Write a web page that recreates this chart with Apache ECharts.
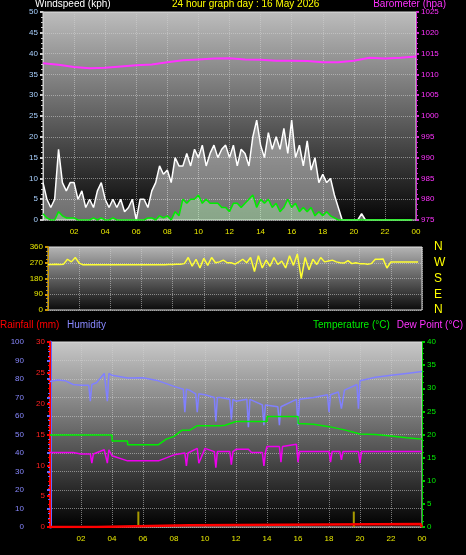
<!DOCTYPE html>
<html><head><meta charset="utf-8">
<script src="https://cdn.jsdelivr.net/npm/echarts@6/dist/echarts.min.js"></script>
<style>html,body{margin:0;background:#000}#c{width:466px;height:555px}</style></head>
<body><div id="c"></div><script>
// 15-minute samples (96) for wind and direction
const gust=[9,5,3,5, 17,9,7,9, 9,5,7,3, 5,3,7,9, 5,3,5,3, 5,2,3,5, 0,5,5,3, 7,9,13,11,
 12,9,15,13, 13,16,13,17, 15,18,13,16, 18,15,17,18, 15,18,13,17, 16,13,20,24, 18,15,21,17, 20,17,22,16,
 24,15,18,13, 19,12,15,9, 11,9,10,6, 3,0,0,0, 0,0,1.5,0, 0,0,0,0, 0,0,0,0, 0,0,0,0];
const avgWind=[1.5,0.5,0,0, 2,1,0.5,0.5, 0.5,0,0,0, 0,0.5,0,0.5, 0,0,0.5,0, 0,0,0,0, 0,0,0,0.5, 0.5,0,1,0.5,
 1,0,2,1, 5,4,5,5, 6,4,5,4, 4,4,3,3, 2,4,4,3, 4,5,6,3, 5,4,5,3, 4,2,3,5,
 3,4,2,3, 2,3,1,2, 1,2,1,0.5, 0,0,0,0, 0,0,0,0, 0,0,0,0, 0,0,0,0, 0,0,0,0];
const windDir=[260,260,262,260, 262,290,275,300, 268,258,258,258, 258,258,258,258, 258,258,258,258, 258,258,258,258,
 258,258,258,258, 258,258,258,260, 260,262,262,265, 300,250,290,240, 295,255,300,270, 275,285,270,270,
 262,275,290,270, 300,220,310,240, 285,250,300,260, 280,240,310,255, 320,180,300,230, 290,260,300,275,
 280,285,275,270, 268,282,265,270, 265,265,262,265, 290,290,292,240, 275,275,275,275, 275,275,275,275];
const baroHours=[0,1,2,3,4,5,6,7,8,9,10,11,12,13,14,15,16,17,18,19,20,21,22,23,24];
const baro=[1012.7,1012.3,1011.8,1011.5,1011.6,1011.9,1012.2,1012.4,1012.9,1013.4,1013.6,1013.8,1013.9,1013.6,1013.5,1013.3,1013.3,1013.2,1012.9,1012.9,1013.3,1014,1013.8,1014,1014.3];
const humHours=[0,0.5,1,1.5,2,2.5,2.6,2.7,3,3.5,3.7,3.8,4,5,6,7,8,8.6,8.7,8.8,9,9.4,9.5,9.6,10,10.6,10.7,10.8,11,11.6,11.7,11.8,12,12.7,12.8,12.9,13,13.7,13.8,13.9,14,14.7,14.8,14.9,15,15.9,16,16.1,17,17.9,18,18.1,18.6,18.7,18.8,19,19.8,19.9,20,21,22,23,24];
const humidity=[78.7,79.5,79,77,76.6,76.6,68,77,78,83,68,83,82,80.5,80.7,79,76,74.5,62,74.5,74,72,62,72,71.5,70,57,70,70,69,58,69,68,69,54,69,69,66,55,66,65,65,55,65,64,69,55,69,70,71.5,62,71.5,73,73,64,74,77,64,79,81,82,83,84];
const tempHours=[0,4,4.01,5,5.01,7,7.5,8,8.5,9,9.5,10,11,11.3,12,13,14,14.01,16,16.01,17,18,19,20,21,22,23,24];
const temperature=[19.9,19.9,18.6,18.6,17.8,17.8,19,19.6,20.9,20.9,21.9,21.9,21.9,22,22.8,22.8,22.8,23.9,23.9,22.4,22.2,21.7,21,20.1,20,19.7,19.3,19];
const dewHours=[0,1.5,2,2.6,2.7,2.8,3.5,3.7,3.8,4,5,7,8,8.7,8.8,8.9,9.5,9.6,10,10.6,10.7,10.8,11.6,11.7,11.8,12,12.8,13,13.7,13.8,13.9,14,14.8,14.9,15,15.9,16,16.1,18,18.1,18.2,18.7,18.8,18.9,19.9,20,20.1,24];
const dewPoint=[16.1,16.1,15.8,15.8,13.8,15.8,16.7,13.8,16.7,15.4,14.3,14.3,15.6,16,13.2,16,17,13.8,17,16.3,12.8,16.3,16.3,13.5,16.3,16.8,16.8,16.1,16.1,13.2,16.1,17.4,17.4,14,17.4,17.9,14,16.3,16.3,14,16.3,16.3,14.5,16.3,16.3,13.8,16.3,16.3];
const rainHours=[0,3,3.01,9,9.01,23.9,24];
const rainfall=[0,0,0.3,0.3,0.5,0.5,0];
const rainRateHours=[5.7,19.6];
const rainRate=[2.5,2.5];
const hourLabels=['00','02','04','06','08','10','12','14','16','18','20','22','00'];

const q=i=>i*0.25;
const pair=(xs,ys)=>ys.map((v,i)=>[xs[i],v]);
const bg=(a,b)=>({type:'linear',x:0,y:0,x2:0,y2:1,colorStops:[{offset:0,color:a},{offset:1,color:b}]});
const F='Liberation Sans';
const sl={show:true,lineStyle:{color:'rgba(210,210,210,0.55)',type:'dotted'}};
const plain=v=>String(v);
function xa(g,show){return {type:'value',gridIndex:g,min:0,max:24,interval:2,
 axisLine:{show:false},axisTick:{show:false},splitLine:sl,
 axisLabel:{show:show,color:'#e8e800',fontSize:8,fontFamily:F,formatter:v=>v===0?'':hourLabels[v/2]}};}
function ya(g,o){return Object.assign({type:'value',gridIndex:g,splitLine:sl,
 axisTick:{show:true,length:3,lineStyle:{width:2}},minorTick:{show:true,splitNumber:4,length:2}},o);}
function lab(color,extra){return Object.assign({color:color,fontSize:8,fontFamily:F,margin:5,formatter:plain},extra||{});}
function ttl(t,pos,color){return Object.assign({text:t,padding:0,textStyle:{color:color,fontSize:10,fontWeight:'normal',fontFamily:F}},pos);}
const opt={backgroundColor:'#000',animation:false,
 title:[
  ttl('Windspeed (kph)',{left:35,top:-1},'#fff'),
  ttl('24 hour graph day : 16 May 2026',{left:172,top:-1},'#ffff00'),
  ttl('Barometer (hpa)',{right:20,top:-1},'#ff33ff'),
  ttl('Rainfall (mm)',{left:0,top:320},'#ff0000'),
  ttl('Humidity',{left:67,top:320},'#8888ff'),
  ttl('Temperature (°C)',{left:313,top:320},'#00ee00'),
  ttl('Dew Point (°C)',{right:3,top:320},'#ff33ff')],
 grid:[
  {left:43,right:50,top:12,height:208,show:true,backgroundColor:bg('#bdbdbd','#050505'),borderColor:'#ddd',borderWidth:1},
  {left:48,right:44,top:247,height:63,show:true,backgroundColor:bg('#b5b5b5','#0a0a0a'),borderColor:'#ddd',borderWidth:1},
  {left:50,right:44,top:342,height:185,show:true,backgroundColor:bg('#c8c8c8','#000'),borderColor:'#ddd',borderWidth:1}],
 xAxis:[xa(0,true),xa(1,false),xa(2,true)],
 yAxis:[
  ya(0,{position:'left',min:0,max:50,interval:5,axisLine:{show:true,lineStyle:{color:'#ccc'}},axisLabel:lab('#a8d0ff')}),
  ya(0,{position:'right',min:975,max:1025,interval:5,splitLine:{show:false},axisLine:{show:true,lineStyle:{color:'#cc33cc'}},axisLabel:lab('#ff33ff')}),
  ya(1,{position:'left',min:0,max:360,interval:90,axisLine:{show:true,lineStyle:{color:'#cc9900'}},axisLabel:lab('#e8e800')}),
  ya(1,{position:'right',min:0,max:360,interval:90,splitLine:{show:false},axisLine:{show:false},axisTick:{show:false},minorTick:{show:false},
    axisLabel:{color:'#ffff00',fontSize:12,fontFamily:F,margin:12,formatter:v=>['N','E','S','W','N'][v/90]}}),
  ya(2,{position:'left',min:0,max:100,interval:10,offset:21,axisLine:{show:true,lineStyle:{color:'#6666ff',width:3}},axisTick:{show:true,length:3,lineStyle:{color:'#6666ff',width:2}},axisLabel:lab('#8888ff')}),
  ya(2,{position:'left',min:0,max:30,interval:5,splitLine:{show:false},axisLine:{show:true,lineStyle:{color:'#ff0000',width:2}},axisLabel:lab('#ff2222')}),
  ya(2,{position:'right',min:0,max:40,interval:5,splitLine:{show:false},axisLine:{show:true,lineStyle:{color:'#00cc00'}},axisLabel:lab('#00ee00')})],
 series:[
  {type:'line',xAxisIndex:0,yAxisIndex:0,data:gust.map((v,i)=>[q(i),v]),symbol:'none',lineStyle:{color:'#ffffff',width:1.5},areaStyle:{color:'rgba(255,255,255,0.6)'}},
  {type:'line',xAxisIndex:0,yAxisIndex:0,data:avgWind.map((v,i)=>[q(i),v]),symbol:'none',lineStyle:{color:'#00ee00',width:1.5},areaStyle:{color:'rgba(180,255,180,0.55)'}},
  {type:'line',xAxisIndex:0,yAxisIndex:1,data:pair(baroHours,baro),symbol:'none',lineStyle:{color:'#ff33ff',width:2}},
  {type:'line',xAxisIndex:1,yAxisIndex:2,data:windDir.map((v,i)=>[q(i),v]),symbol:'none',lineStyle:{color:'#ffff33',width:1.5}},
  {type:'line',xAxisIndex:2,yAxisIndex:4,data:pair(humHours,humidity),symbol:'none',lineStyle:{color:'#8080ff',width:1.5}},
  {type:'line',xAxisIndex:2,yAxisIndex:6,data:pair(tempHours,temperature),symbol:'none',lineStyle:{color:'#00ee00',width:1.5}},
  {type:'line',xAxisIndex:2,yAxisIndex:6,data:pair(dewHours,dewPoint),symbol:'none',lineStyle:{color:'#ee00ee',width:1.5}},
  {type:'bar',xAxisIndex:2,yAxisIndex:5,data:pair(rainRateHours,rainRate),barWidth:2,itemStyle:{color:'#a89a00'}},
  {type:'line',xAxisIndex:2,yAxisIndex:5,data:pair(rainHours,rainfall),symbol:'none',lineStyle:{color:'#ff0000',width:2.5}}]};
echarts.init(document.getElementById('c')).setOption(opt);
</script></body></html>
